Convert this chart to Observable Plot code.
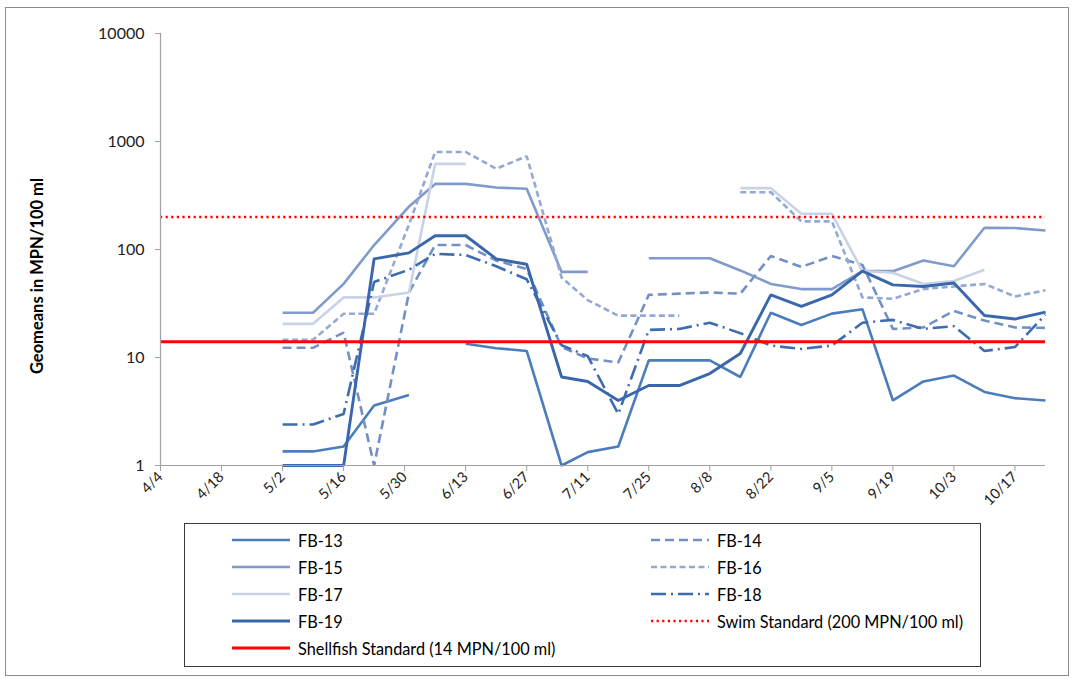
<!DOCTYPE html>
<html><head><meta charset="utf-8">
<script src="https://cdn.jsdelivr.net/npm/d3@7"></script>
<script src="https://cdn.jsdelivr.net/npm/@observablehq/plot@0.6"></script>
<style>
body{margin:0;background:#fff;font-family:Lato,"Open Sans",sans-serif;}
#wrap{position:relative;width:1073px;height:679px;overflow:hidden;background:#fff;}
#frame{position:absolute;left:5px;top:7px;width:1064px;height:669px;border:1.5px solid #8c8c8c;box-sizing:border-box;}
#chart{position:absolute;left:0;top:0;}
#ylabel{position:absolute;left:37px;top:276px;transform:translate(-50%,-50%) rotate(-90deg);font-weight:bold;font-size:16.5px;white-space:nowrap;color:#000;}
#legend{position:absolute;left:184px;top:523px;width:797px;height:144px;border:1px solid #3a3a3a;box-sizing:border-box;background:#fff;}
.item{position:absolute;height:20px;display:flex;align-items:center;font-size:16.3px;color:#000;white-space:nowrap;}
.item svg{margin-right:8px;}
</style></head><body>
<div id="wrap">
  <div id="frame"></div>
  <div id="chart"></div>
  <div id="ylabel">Geomeans in MPN/100 ml</div>
  <div id="legend"></div>
</div>
<script>
const year = 2013;
const sampleDates = ["5/2","5/9","5/16","5/23","5/31","6/6","6/13","6/20","6/27","7/5","7/11","7/18","7/25","8/1","8/8","8/15","8/22","8/29","9/5","9/12","9/19","9/26","10/3","10/10","10/17","10/24"];
const xTickLabels = ["4/4","4/18","5/2","5/16","5/30","6/13","6/27","7/11","7/25","8/8","8/22","9/5","9/19","10/3","10/17"];
const xDomainLabels = ["4/4","10/24"];
const yTicks = [1,10,100,1000,10000];

const fb13 = [1.35,1.35,1.5,3.6,4.5,null,13.4,12.2,11.5,1.0,1.33,1.5,9.4,9.4,9.4,6.6,26,20,25.5,28,4.0,6.0,6.8,4.8,4.2,4.0];
const fb14 = [12.3,12.3,17,1,40,110,110,79,66,12.5,9.8,9.0,38,39,40,39,87,69,87,72,18.4,19,27,22,19,18.8];
const fb15 = [26,26,48,110,250,405,405,375,365,62,62,null,83,83,83,64,48,43,43,63,63,79,70,159,158,150];
const fb16 = [14.6,14.6,25.4,25.4,170,800,800,560,730,55,34,24.4,24.4,24.4,null,339,339,182,182,36,35,43,45.5,48,36.7,42];
const fb17 = [20.5,20.5,36,36,40,620,620,null,null,null,null,null,null,null,null,370,370,214,214,63,61,48,51,65,null,null];
const fb18 = [2.4,2.4,3.0,50,65,91,89,70,53,13,10.3,3.0,18,18.4,21,16.8,12.9,12,12.9,21,22.3,18.4,19.5,11.5,12.5,25];
const fb19 = [1,1,1,82,93,134,134,82,73,6.6,6.0,4.0,5.5,5.5,7.1,10.9,38,29.8,38,63,47,45.5,49,24.5,22.7,26.3];

const stationNames = ["FB-13","FB-14","FB-15","FB-16","FB-17","FB-18","FB-19"];
const stationValues = [fb13,fb14,fb15,fb16,fb17,fb18,fb19];
const swimStandard = 200;
const shellfishStandard = 14;
const swimLabel = "Swim Standard (200 MPN/100 ml)";
const shellfishLabel = "Shellfish Standard (14 MPN/100 ml)";

const styles = {
  "FB-13": {stroke:"#4a7dbc", width:2.6, dash:null},
  "FB-14": {stroke:"#7390c5", width:2.6, dash:"9,5"},
  "FB-15": {stroke:"#809bcb", width:2.6, dash:null},
  "FB-16": {stroke:"#93a9d3", width:2.6, dash:"6,3.5"},
  "FB-17": {stroke:"#c9d3e7", width:2.6, dash:null},
  "FB-18": {stroke:"#3e6cb0", width:2.6, dash:"15,5,2,5"},
  "FB-19": {stroke:"#3a67ab", width:2.9, dash:null}
};
const swimStyle = {stroke:"#ff0000", width:2.6, dash:"2.2,3.4"};
const shellStyle = {stroke:"#ff0000", width:3, dash:null};

const parse = s => { const [m,d] = s.split("/").map(Number); return new Date(Date.UTC(year, m-1, d)); };

const lineMarks = stationNames.map((name, i) => {
  const rows = sampleDates.map((d, j) => ({date: parse(d), value: stationValues[i][j] == null ? NaN : stationValues[i][j]}));
  const st = styles[name];
  return Plot.line(rows, {x:"date", y:"value", stroke:st.stroke, strokeWidth:st.width, strokeDasharray:st.dash, strokeLinejoin:"miter", strokeLinecap:"butt"});
});

const xMin = parse(xDomainLabels[0]);
const chart = Plot.plot({
  width:1073, height:510,
  marginLeft:160, marginRight:28, marginTop:33, marginBottom:45,
  x:{type:"utc", domain:[xMin, parse(xDomainLabels[1])]},
  y:{type:"log", domain:[1,10000]},
  style:{fontFamily:"Lato, 'Open Sans', sans-serif", background:"transparent", overflow:"visible", color:"#000"},
  marks:[
    ...lineMarks,
    Plot.ruleY([swimStandard], {stroke:swimStyle.stroke, strokeWidth:swimStyle.width, strokeDasharray:swimStyle.dash}),
    Plot.ruleY([shellfishStandard], {stroke:shellStyle.stroke, strokeWidth:shellStyle.width}),
    Plot.ruleX([xMin], {stroke:"#a0a0a0", strokeWidth:1.2}),
    Plot.ruleY([1], {stroke:"#a0a0a0", strokeWidth:1.2}),
    Plot.axisY({ticks:yTicks, tickFormat:d => String(d), tickSize:5, tickPadding:11, fontSize:16, label:null, stroke:"#a0a0a0", fill:"#222"}),
    Plot.axisX({ticks:xTickLabels.map(parse), tickFormat:d3.utcFormat("%-m/%-d"), tickRotate:-45, tickSize:6, tickPadding:3, fontSize:14.5, label:null, stroke:"#a0a0a0", fill:"#222"})
  ]
});
document.getElementById("chart").appendChild(chart);

// legend
const legendItems = [
  {label:"FB-13", st:styles["FB-13"], col:0, row:0},
  {label:"FB-14", st:styles["FB-14"], col:1, row:0},
  {label:"FB-15", st:styles["FB-15"], col:0, row:1},
  {label:"FB-16", st:styles["FB-16"], col:1, row:1},
  {label:"FB-17", st:styles["FB-17"], col:0, row:2},
  {label:"FB-18", st:styles["FB-18"], col:1, row:2},
  {label:"FB-19", st:styles["FB-19"], col:0, row:3},
  {label:swimLabel, st:swimStyle, col:1, row:3},
  {label:shellfishLabel, st:shellStyle, col:0, row:4}
];
const leg = document.getElementById("legend");
const colX = [47, 466];
legendItems.forEach(it => {
  const div = document.createElement("div");
  div.className = "item";
  div.style.left = colX[it.col] + "px";
  div.style.top = (6 + it.row * 27) + "px";
  const w = 58;
  div.innerHTML = `<svg width="${w}" height="10"><line x1="0" y1="5" x2="${w}" y2="5" stroke="${it.st.stroke}" stroke-width="${it.st.width}" ${it.st.dash ? `stroke-dasharray="${it.st.dash}"` : ""}/></svg><span>${it.label}</span>`;
  leg.appendChild(div);
});
</script>
</body></html>
